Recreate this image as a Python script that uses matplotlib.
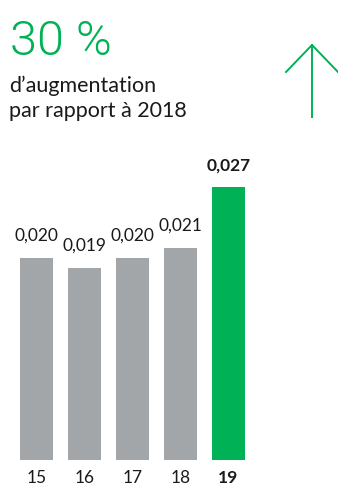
import matplotlib
matplotlib.use("Agg")
import matplotlib.pyplot as plt
from matplotlib.lines import Line2D

years = ["15", "16", "17", "18", "19"]
values = [0.020, 0.019, 0.020, 0.021, 0.027]
value_labels = ["0,020", "0,019", "0,020", "0,021", "0,027"]

GREEN = "#00B156"
GRAY = "#A3A6A9"
DARK = "#1a1a1a"

W, H = 338, 486
fig = plt.figure(figsize=(W / 100, H / 100), dpi=100)
plt.rcParams["font.family"] = ["Lato", "DejaVu Sans"]


def fx(px):
    return px / W


def fy(py):
    return 1 - py / H


# header
fig.text(fx(10), fy(55), "30 %", fontsize=35, color=GREEN, family="Roboto",
         fontweight=300, va="baseline", ha="left")
fig.text(fx(9), fy(92), "d\u2019augmentation", fontsize=15.5, color=DARK,
         va="baseline", ha="left")
fig.text(fx(9), fy(117), "par rapport à 2018", fontsize=15.5, color=DARK,
         va="baseline", ha="left")

# up arrow
arrow_kw = dict(color=GREEN, linewidth=1.4, transform=fig.transFigure)
fig.add_artist(Line2D([fx(312), fx(312)], [fy(45), fy(117)], **arrow_kw))
fig.add_artist(Line2D([fx(286), fx(312), fx(338)], [fy(72), fy(45), fy(72)], **arrow_kw))

# bars
ax = fig.add_axes([0, fy(460), 1, (460 - 187) / H])
colors = [GRAY] * (len(values) - 1) + [GREEN]
x = list(range(len(values)))
ax.bar(x, values, width=33 / 48, color=colors)
ax.set_xlim(-36.5 / 48, (W - 36.5) / 48)
ax.set_ylim(0, 0.027)
ax.axis("off")

for i, (v, lab) in enumerate(zip(values, value_labels)):
    last = i == len(values) - 1
    ax.annotate(lab, (i, v), xytext=(0, 10), textcoords="offset points",
                ha="center", va="bottom", fontsize=12.5, color=DARK,
                fontweight="bold" if last else "normal")
    ax.annotate(years[i], (i, 0), xytext=(0, -16.5), textcoords="offset points",
                ha="center", va="baseline", fontsize=12.5, color=DARK,
                fontweight="bold" if last else "normal")

fig.savefig("out.png", dpi=100)
